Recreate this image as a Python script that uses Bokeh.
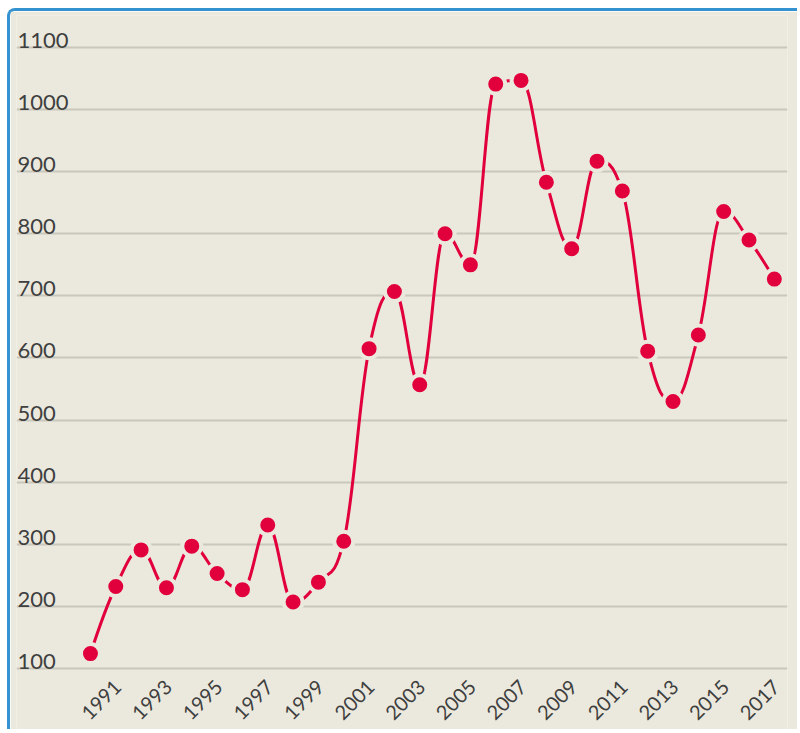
import math
from bokeh.plotting import figure
from bokeh.models import FixedTicker, ColumnDataSource
from bokeh.core.properties import value
from bokeh.embed import file_html
from bokeh.resources import INLINE

years = list(range(1990, 2018))
values = [124, 232, 291, 230, 297, 253, 227, 331, 207, 239, 305,
          615, 707, 557, 800, 750, 1041, 1047, 883, 776, 917, 869,
          611, 530, 637, 836, 790, 727]
y_ticks = [100, 200, 300, 400, 500, 600, 700, 800, 900, 1000, 1100]
x_ticks = list(range(1991, 2018, 2))

BG = "#ebe9de"
RED = "#e2003c"
GRID = "#cac8bc"
TXT = "#3f3f3f"
BLUE = "#3592d0"
FONT = "Lato"

X_START, X_END = 1987.08, 2017.52
Y_START, Y_END = -3.06, 1151.5

p = figure(width=790, height=721, output_backend="svg", toolbar_location=None,
           x_range=(X_START, X_END), y_range=(Y_START, Y_END),
           min_border_left=6, min_border_right=13, min_border_top=4, min_border_bottom=0,
           background_fill_color=BG, border_fill_color=BG,
           styles={"margin-left": "7px", "margin-top": "8px",
                   "border-left": f"3px solid {BLUE}", "border-top": f"3px solid {BLUE}",
                   "border-right": "none", "border-bottom": "none",
                   "border-top-left-radius": "8px"})
p.outline_line_color = None
p.xgrid.visible = False
p.ygrid.ticker = FixedTicker(ticks=y_ticks)
p.ygrid.grid_line_color = GRID
p.ygrid.grid_line_width = 2
p.yaxis.visible = False
p.xaxis.visible = False

# y labels above gridlines, inside the plot
p.text(x=[X_START] * len(y_ticks), y=y_ticks, text=[str(t) for t in y_ticks],
       x_offset=1, y_offset=-7, text_font=value(FONT), text_font_size="22px",
       text_color=TXT, text_baseline="alphabetic", text_align="left")

# x labels, rotated, below the lowest gridline
p.text(x=x_ticks, y=[y_ticks[0]] * len(x_ticks), text=[str(t) for t in x_ticks],
       x_offset=2, y_offset=15, angle=math.pi / 4, text_font=value(FONT),
       text_font_size="20px", text_color=TXT, text_baseline="middle", text_align="right")

# Highcharts-like spline through the points (bezier segments)
def controls(xs, ys, sm=1.5):
    n = len(xs)
    lc, rc = [None] * n, [None] * n
    for i in range(n):
        x, y = xs[i], ys[i]
        if i == 0 or i == n - 1:
            lc[i] = (x, y); rc[i] = (x, y); continue
        lx, ly = xs[i - 1], ys[i - 1]
        nx, ny = xs[i + 1], ys[i + 1]
        d = sm + 1
        lcx, lcy = (sm * x + lx) / d, (sm * y + ly) / d
        rcx, rcy = (sm * x + nx) / d, (sm * y + ny) / d
        corr = 0
        if rcx != lcx:
            corr = (rcy - lcy) * (rcx - x) / (rcx - lcx) + y - rcy
        lcy += corr; rcy += corr
        if lcy > ly and lcy > y:
            lcy = max(ly, y); rcy = 2 * y - lcy
        elif lcy < ly and lcy < y:
            lcy = min(ly, y); rcy = 2 * y - lcy
        if rcy > ny and rcy > y:
            rcy = max(ny, y); lcy = 2 * y - rcy
        elif rcy < ny and rcy < y:
            rcy = min(ny, y); lcy = 2 * y - rcy
        lc[i] = (lcx, lcy); rc[i] = (rcx, rcy)
    return lc, rc

lc, rc = controls(years, values)
seg = ColumnDataSource(dict(
    x0=years[:-1], y0=values[:-1], x1=years[1:], y1=values[1:],
    cx0=[rc[i][0] for i in range(len(years) - 1)],
    cy0=[rc[i][1] for i in range(len(years) - 1)],
    cx1=[lc[i + 1][0] for i in range(len(years) - 1)],
    cy1=[lc[i + 1][1] for i in range(len(years) - 1)],
))
p.bezier(x0="x0", y0="y0", x1="x1", y1="y1", cx0="cx0", cy0="cy0", cx1="cx1", cy1="cy1",
         source=seg, line_color=RED, line_width=3)

p.scatter(years, values, size=19, fill_color=RED, line_color=BG, line_width=4)

open("out.html", "w").write(file_html(p, INLINE))
